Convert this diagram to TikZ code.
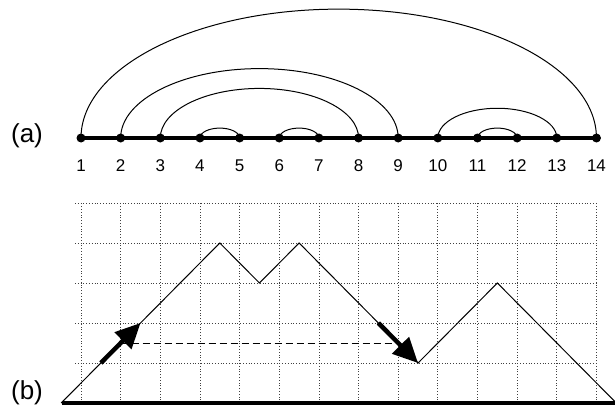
\documentclass[tikz,border=0pt]{standalone}
\usepackage{fontspec}
\setmainfont{Liberation Sans}
\usetikzlibrary{arrows.meta,calc}
\begin{document}
\begin{tikzpicture}[x=1pt,y=1pt,
  dotnode/.style={circle,fill=black,inner sep=0pt,minimum size=9pt},
  numlbl/.style={font=\fontsize{17}{17}\selectfont,anchor=base,inner sep=0pt},
  partlbl/.style={font=\fontsize{26}{26}\selectfont,anchor=base,inner sep=0pt},
  arcline/.style={line width=1pt},
  gridline/.style={dotted,line width=0.8pt,black!75},
  pathline/.style={line width=1pt},
  dashline/.style={line width=0.8pt,dash pattern=on 7pt off 4pt},
  bigarrow/.style={line width=4.5pt,-{Triangle[length=25pt,width=23pt]}},
  ]
\useasboundingbox (0,0) rectangle (615,405);
\def\s{39.65}
% grid
\foreach \h in {1,...,5} \draw[gridline] (75,{2+40*\h}) -- (597,{2+40*\h});
\foreach \i in {1,...,14} \draw[gridline] ({81+\s*(\i-1)},2) -- ({81+\s*(\i-1)},202);
% baseline
\draw[line width=4pt] (62,2) -- (615,2);
% path
\foreach \h [count=\k from 0] in {0,1,2,3,4,3,4,3,2,1,2,3,2,1,0}
  \coordinate (p\k) at ({61.2+\s*\k},{2+40*\h});
\draw[pathline] (p0) -- (p1) -- (p2) -- (p3) -- (p4) -- (p5) -- (p6) -- (p7)
  -- (p8) -- (p9) -- (p10) -- (p11) -- (p12) -- (p13) -- (p14);
\coordinate (m1) at ($(p1)!0.5!(p2)$);
\coordinate (m2) at ($(p8)!0.5!(p9)$);
\draw[dashline] (m1) -- (m2);
\draw[bigarrow] (p1) -- (p2);
\draw[bigarrow] (p8) -- (p9);
% top
\foreach \i in {1,...,14} {
  \node[dotnode] (n\i) at ({81+\s*(\i-1)},267) {};
  \node[numlbl] (l\i) at ({81+\s*(\i-1)},234) {\i};
}
\draw[line width=4pt] (n1.center) -- (n14.center);
\foreach \a/\b in {1/14,2/9,3/8,4/5,6/7,10/13,11/12}
  \draw[arcline] (n\a.center) arc[start angle=180,end angle=0,
    x radius={(\b-\a)*\s/2},y radius={(\b-\a)*\s/4}];
\node[partlbl] (la) at (27,262) {(a)};
\node[partlbl] (lb) at (27,6) {(b)};
\end{tikzpicture}
\end{document}
